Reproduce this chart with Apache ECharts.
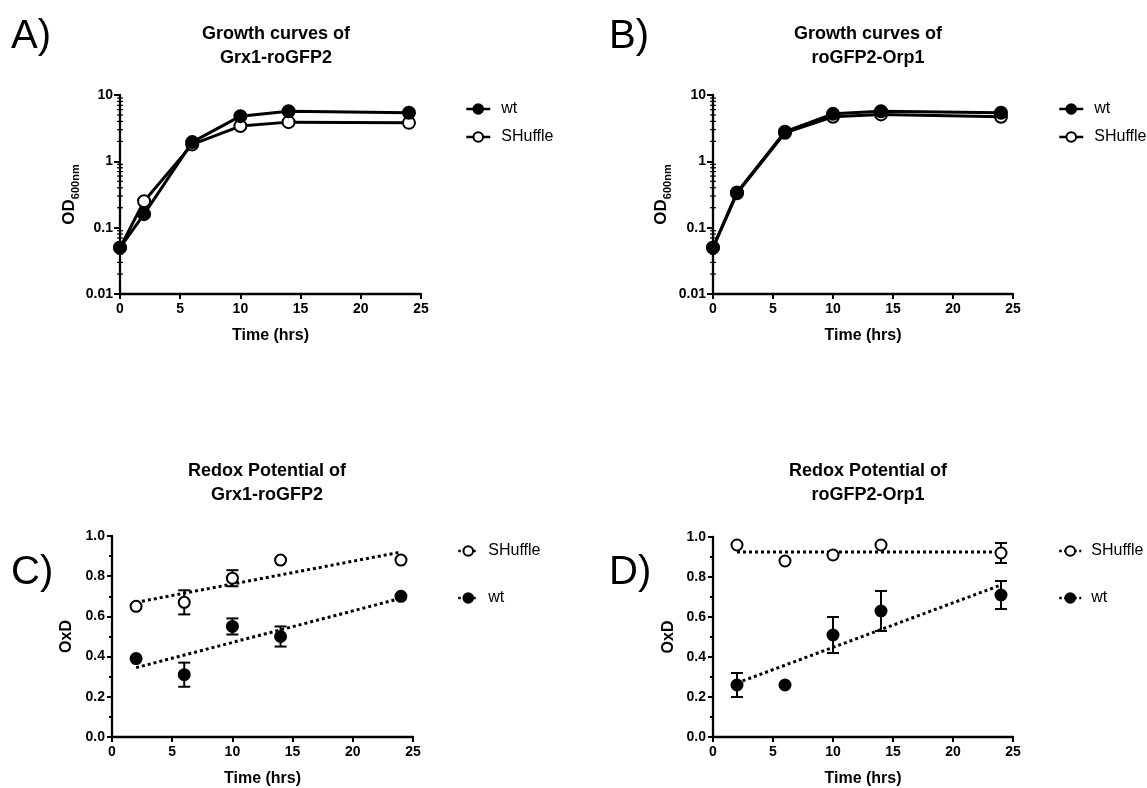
<!DOCTYPE html>
<html>
<head>
<meta charset="utf-8">
<script src="https://cdn.jsdelivr.net/npm/echarts@6/dist/echarts.min.js"></script>
<style>
html,body{margin:0;padding:0;background:#fff;}
#chart{width:1147px;height:788px;}
</style>
</head>
<body>
<div id="chart"></div>
<script>
// ---- Data ----
const hours = [0, 2, 6, 10, 14, 24];
const grxWt = [0.05, 0.16, 1.95, 4.8, 5.7, 5.4];
const grxShuffle = [0.05, 0.25, 1.8, 3.4, 3.9, 3.8];
const orpWt = [0.05, 0.34, 2.8, 5.2, 5.7, 5.4];
const orpShuffle = [0.05, 0.33, 2.7, 4.7, 5.1, 4.7];

const redoxHours = [2, 6, 10, 14, 24];
const grxRedoxShuffle = [0.65, 0.67, 0.79, 0.88, 0.88];
const grxRedoxShuffleErr = [0, 0.06, 0.04, 0, 0];
const grxRedoxWt = [0.39, 0.31, 0.55, 0.50, 0.70];
const grxRedoxWtErr = [0, 0.06, 0.04, 0.05, 0];
const orpRedoxShuffle = [0.96, 0.88, 0.91, 0.96, 0.92];
const orpRedoxShuffleErr = [0, 0, 0, 0, 0.05];
const orpRedoxWt = [0.26, 0.26, 0.51, 0.63, 0.71];
const orpRedoxWtErr = [0.06, 0, 0.09, 0.10, 0.07];

const fitHours = [2, 24];
const grxShuffleFit = [0.67, 0.92];
const grxWtFit = [0.345, 0.69];
const orpShuffleFit = [0.925, 0.925];
const orpWtFit = [0.27, 0.76];

const logTickLabels = ['0.01', '0.1', '1', '10'];
const logMinorTicks = [0.02, 0.03, 0.04, 0.05, 0.06, 0.07, 0.08, 0.09,
                       0.2, 0.3, 0.4, 0.5, 0.6, 0.7, 0.8, 0.9,
                       2, 3, 4, 5, 6, 7, 8, 9];
const titles = ['Growth curves of\nGrx1-roGFP2', 'Growth curves of\nroGFP2-Orp1', 'Redox Potential of\nGrx1-roGFP2', 'Redox Potential of\nroGFP2-Orp1'];
const panelLetters = ['A)', 'B)', 'C)', 'D)'];

// ---- Helpers ----
const FONT = "'Liberation Sans', Arial, sans-serif";
const pairs = (xs, ys) => xs.map((x, i) => [x, ys[i]]);
const errData = (xs, ys, es) => xs.map((x, i) => [x, ys[i] - es[i], ys[i] + es[i]]).filter((d, i) => es[i] > 0);

const grids = [
  {left: 120, top: 95, width: 301, height: 199},
  {left: 713, top: 95, width: 300, height: 199},
  {left: 112, top: 536, width: 301, height: 201},
  {left: 713, top: 537, width: 300, height: 200}
];

const axisLineStyle = {color: '#000', width: 2.3};
const tickLabel = {color: '#000', fontSize: 14, fontWeight: 'bold', fontFamily: FONT};

function xAxisFor(i) {
  return {
    type: 'value', gridIndex: i, min: 0, max: 25, interval: 5,
    axisLine: {show: true, onZero: false, lineStyle: axisLineStyle},
    axisTick: {show: true, length: 5, lineStyle: {color: '#000', width: 2}},
    axisLabel: Object.assign({margin: 8}, tickLabel),
    splitLine: {show: false},
    name: 'Time (hrs)', nameLocation: 'middle', nameGap: 34,
    nameTextStyle: {color: '#000', fontSize: 16, fontWeight: 'bold', fontFamily: FONT}
  };
}
function logYAxis(i, gap) {
  return {
    type: 'log', logBase: 10, gridIndex: i, min: 0.01, max: 10,
    axisLine: {show: true, lineStyle: axisLineStyle},
    axisTick: {show: true, length: 6, lineStyle: {color: '#000', width: 2}},
    minorTick: {show: false},
    axisLabel: Object.assign({margin: 7, formatter: v => logTickLabels[Math.round(Math.log10(v)) + 2]}, tickLabel),
    splitLine: {show: false},
    name: '{a|OD}{b|600nm}', nameLocation: 'middle', nameGap: gap, nameRotate: 90,
    nameTextStyle: {color: '#000', fontFamily: FONT, rich: {
      a: {fontSize: 17, fontWeight: 'bold', color: '#000', fontFamily: FONT, verticalAlign: 'top', lineHeight: 20},
      b: {fontSize: 11, fontWeight: 'bold', color: '#000', fontFamily: FONT, verticalAlign: 'bottom', lineHeight: 20, padding: [8, 0, 0, 0]}
    }}
  };
}
function linYAxis(i, gap) {
  return {
    type: 'value', gridIndex: i, min: 0, max: 1, interval: 0.2,
    axisLine: {show: true, lineStyle: axisLineStyle},
    axisTick: {show: true, length: 5, lineStyle: {color: '#000', width: 2}},
    minorTick: {show: true, splitNumber: 2, length: 3, lineStyle: {color: '#000', width: 2}},
    axisLabel: Object.assign({margin: 7, formatter: v => v.toFixed(1)}, tickLabel),
    splitLine: {show: false},
    name: 'OxD', nameLocation: 'middle', nameGap: gap, nameRotate: 90,
    nameTextStyle: {color: '#000', fontSize: 16, fontWeight: 'bold', fontFamily: FONT}
  };
}

const filled = {color: '#000', borderColor: '#000', borderWidth: 2, opacity: 1};
const open = {color: '#fff', borderColor: '#000', borderWidth: 2, opacity: 1};

function growthSeries(i, name, ys, style) {
  return {
    type: 'line', name: name, xAxisIndex: i, yAxisIndex: i,
    data: pairs(hours, ys), symbol: 'circle', symbolSize: 12, showAllSymbol: true,
    lineStyle: {color: '#000', width: 3}, itemStyle: style, z: 3
  };
}
function pointSeries(i, name, ys, style) {
  return {
    type: 'scatter', name: name, xAxisIndex: i, yAxisIndex: i,
    data: pairs(redoxHours, ys), symbol: 'circle', symbolSize: 11,
    itemStyle: style, z: 4
  };
}
function fitSeries(i, name, ys) {
  return {
    type: 'line', name: name, xAxisIndex: i, yAxisIndex: i,
    data: pairs(fitHours, ys), symbol: 'none',
    lineStyle: {color: '#000', width: 3, type: 'dotted'}, z: 2, silent: true
  };
}
function errSeries(i, xs, ys, es) {
  return {
    type: 'custom', xAxisIndex: i, yAxisIndex: i, z: 1, silent: true,
    data: errData(xs, ys, es),
    renderItem: function (params, api) {
      const x = api.value(0);
      const lo = api.coord([x, api.value(1)]);
      const hi = api.coord([x, api.value(2)]);
      const hw = 6;
      const st = {stroke: '#000', lineWidth: 2};
      return {type: 'group', children: [
        {type: 'line', shape: {x1: hi[0], y1: hi[1], x2: lo[0], y2: lo[1]}, style: st},
        {type: 'line', shape: {x1: hi[0] - hw, y1: hi[1], x2: hi[0] + hw, y2: hi[1]}, style: st},
        {type: 'line', shape: {x1: lo[0] - hw, y1: lo[1], x2: lo[0] + hw, y2: lo[1]}, style: st}
      ]};
    }
  };
}
// log-axis minor ticks at 2..9 of each decade, crossing the axis line
function logMinorTickSeries(i) {
  return {
    type: 'custom', xAxisIndex: i, yAxisIndex: i, z: 5, silent: true, clip: false,
    data: logMinorTicks.map(v => [0, v]),
    renderItem: function (params, api) {
      const p = api.coord([0, api.value(1)]);
      return {type: 'line', shape: {x1: p[0] - 3, y1: p[1], x2: p[0] + 3, y2: p[1]},
              style: {stroke: '#000', lineWidth: 1.2}};
    }
  };
}

function legendAt(left, top, names, dotted, gap, w, pad) {
  return {
    orient: 'vertical', left: left, top: top, data: names,
    itemWidth: w, itemHeight: 12, itemGap: gap,
    textStyle: {color: '#000', fontSize: 16, fontFamily: FONT, padding: [0, 0, 0, pad]},
    selectedMode: false,
    lineStyle: {width: 2.5, type: dotted ? 'dotted' : 'solid', color: '#000'}
  };
}

const titleCenters = [271, 863, 262, 863];
const titleTops = [17, 17, 454, 454];

const option = {
  animation: false,
  backgroundColor: '#fff',
  title: titles.map((t, i) => ({
    text: t, left: titleCenters[i], top: titleTops[i], textAlign: 'center',
    textStyle: {color: '#000', fontSize: 18, fontWeight: 'bold', fontFamily: FONT, lineHeight: 24}
  })),
  grid: grids,
  xAxis: [xAxisFor(0), xAxisFor(1), xAxisFor(2), xAxisFor(3)],
  yAxis: [logYAxis(0, 39), logYAxis(1, 40), linYAxis(2, 37), linYAxis(3, 36)],
  legend: [
    legendAt(460, 96, ['wt', 'SHuffle'], false, 12, 24, 6),
    legendAt(1053, 96, ['wt', 'SHuffle'], false, 12, 24, 6),
    legendAt(452, 538, ['SHuffle', 'wt'], true, 31, 20, 5),
    legendAt(1053, 538, ['SHuffle', 'wt'], true, 31, 22, 5)
  ],
  graphic: panelLetters.map((t, i) => ({
    type: 'text', left: [11, 609, 11, 609][i], top: [17, 17, 553, 553][i],
    style: {text: t, fontSize: 40, fontFamily: FONT, fill: '#000'}
  })),
  series: [
    logMinorTickSeries(0),
    logMinorTickSeries(1),
    growthSeries(0, 'SHuffle', grxShuffle, open),
    growthSeries(0, 'wt', grxWt, filled),
    growthSeries(1, 'SHuffle', orpShuffle, open),
    growthSeries(1, 'wt', orpWt, filled),

    errSeries(2, redoxHours, grxRedoxShuffle, grxRedoxShuffleErr),
    errSeries(2, redoxHours, grxRedoxWt, grxRedoxWtErr),
    fitSeries(2, 'SHuffle fit', grxShuffleFit),
    fitSeries(2, 'wt fit', grxWtFit),
    pointSeries(2, 'SHuffle', grxRedoxShuffle, open),
    pointSeries(2, 'wt', grxRedoxWt, filled),

    errSeries(3, redoxHours, orpRedoxShuffle, orpRedoxShuffleErr),
    errSeries(3, redoxHours, orpRedoxWt, orpRedoxWtErr),
    fitSeries(3, 'SHuffle fit', orpShuffleFit),
    fitSeries(3, 'wt fit', orpWtFit),
    pointSeries(3, 'SHuffle', orpRedoxShuffle, open),
    pointSeries(3, 'wt', orpRedoxWt, filled)
  ]
};

const chart = echarts.init(document.getElementById('chart'), null, {renderer: 'canvas'});
chart.setOption(option);
</script>
</body>
</html>
